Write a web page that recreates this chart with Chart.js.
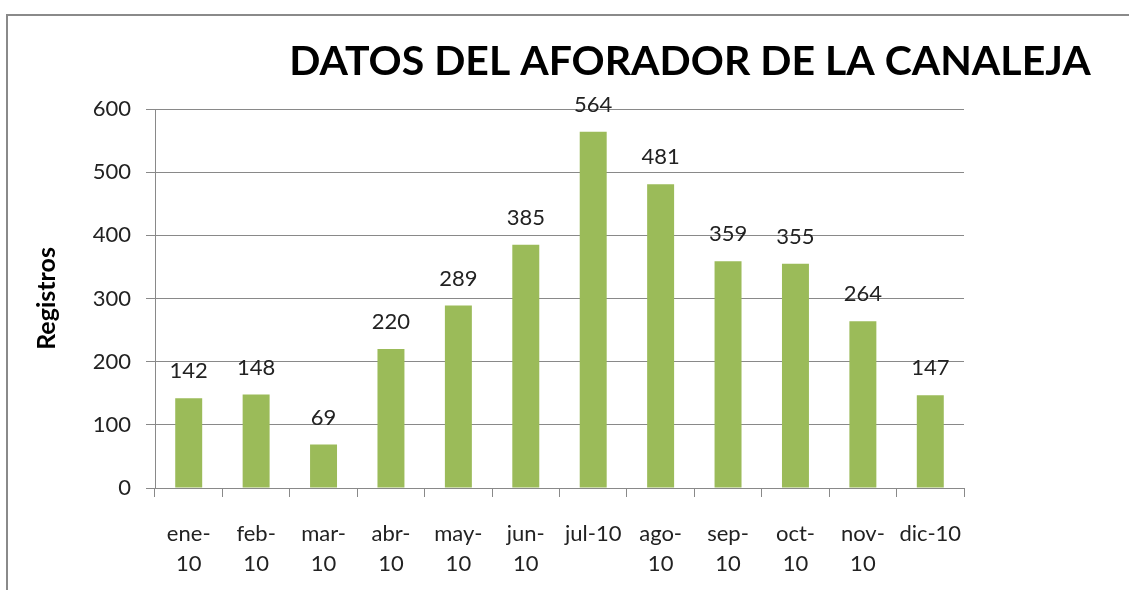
<!DOCTYPE html>
<html>
<head>
<meta charset="utf-8">
<script src="https://cdn.jsdelivr.net/npm/chart.js@4.4.1/dist/chart.umd.min.js"></script>
<style>
  html, body { margin: 0; padding: 0; background: #ffffff; overflow: hidden; }
  #wrap { position: relative; width: 1129px; height: 590px; }
  #frame {
    position: absolute; left: 6px; top: 14px; width: 1200px; height: 700px;
    border: 2px solid #8a8a8a; box-sizing: border-box;
  }
  canvas { position: absolute; left: 0; top: 0; }
</style>
</head>
<body>
<div id="wrap">
  <div id="frame"></div>
  <canvas id="chart" width="1129" height="590"></canvas>
</div>
<script>

// DATA

const meses = [
  ["ene-", "10"], ["feb-", "10"], ["mar-", "10"], ["abr-", "10"],
  ["may-", "10"], ["jun-", "10"], "jul-10", ["ago-", "10"],
  ["sep-", "10"], ["oct-", "10"], ["nov-", "10"], "dic-10"
];

const registros = [142, 148, 69, 220, 289, 385, 564, 481, 359, 355, 264, 147];

const tituloGrafico = "DATOS DEL AFORADOR DE LA CANALEJA";
const tituloEjeY = "Registros";

const fontFamily = "Lato, 'Open Sans', sans-serif";
const gridColor = "#898989";


// VALUE LABELS ABOVE BARS

const valueLabels = {
  id: "valueLabels",
  afterDatasetsDraw(chart) {
    const ctx = chart.ctx;
    const meta = chart.getDatasetMeta(0);
    ctx.save();
    ctx.font = "22px " + fontFamily;
    ctx.fillStyle = "#222";
    ctx.textAlign = "center";
    ctx.textBaseline = "middle";
    meta.data.forEach((bar, i) => {
      ctx.fillText(registros[i], bar.x, bar.y - 27);
    });
    ctx.restore();
  }
};


// BIG TITLE (sits right of centre, like the original)

const bigTitle = {
  id: "bigTitle",
  afterDraw(chart) {
    const ctx = chart.ctx;
    ctx.save();
    ctx.font = "bold 41px " + fontFamily;
    ctx.fillStyle = "#000";
    ctx.textAlign = "center";
    ctx.textBaseline = "middle";
    ctx.fillText(tituloGrafico, 690, 62);
    ctx.restore();
  }
};


// CHART

new Chart(document.getElementById("chart"), {
  type: "bar",
  data: {
    labels: meses,
    datasets: [{
      label: tituloEjeY,
      data: registros,
      backgroundColor: "#9BBB59",
      barPercentage: 0.8,
      categoryPercentage: 0.5
    }]
  },
  options: {
    responsive: false,
    animation: false,
    layout: {
      padding: { top: 109, right: 165, left: 0, bottom: 0 }
    },
    plugins: {
      legend: { display: false },
      title: { display: false },
      tooltip: { enabled: false }
    },
    scales: {
      x: {
        offset: true,
        afterFit: s => { s.height = 102; },
        grid: {
          offset: true,
          drawOnChartArea: false,
          drawTicks: true,
          tickLength: 9,
          color: gridColor
        },
        border: { color: gridColor, width: 1 },
        ticks: {
          color: "#222",
          padding: 22,
          maxRotation: 0,
          autoSkip: false,
          font: { family: fontFamily, size: 22, lineHeight: 1.36 }
        }
      },
      y: {
        min: 0,
        max: 600,
        afterFit: s => { s.width = 155; },
        grid: {
          color: gridColor,
          drawTicks: true,
          tickLength: 9
        },
        border: { color: gridColor, width: 1 },
        ticks: {
          stepSize: 100,
          color: "#222",
          padding: 15,
          font: { family: fontFamily, size: 22 }
        },
        title: {
          display: true,
          text: tituloEjeY,
          color: "#000",
          padding: { top: 32, bottom: 0 },
          font: { family: fontFamily, size: 25, weight: "bold" }
        }
      }
    }
  },
  plugins: [valueLabels, bigTitle]
});

</script>
</body>
</html>
